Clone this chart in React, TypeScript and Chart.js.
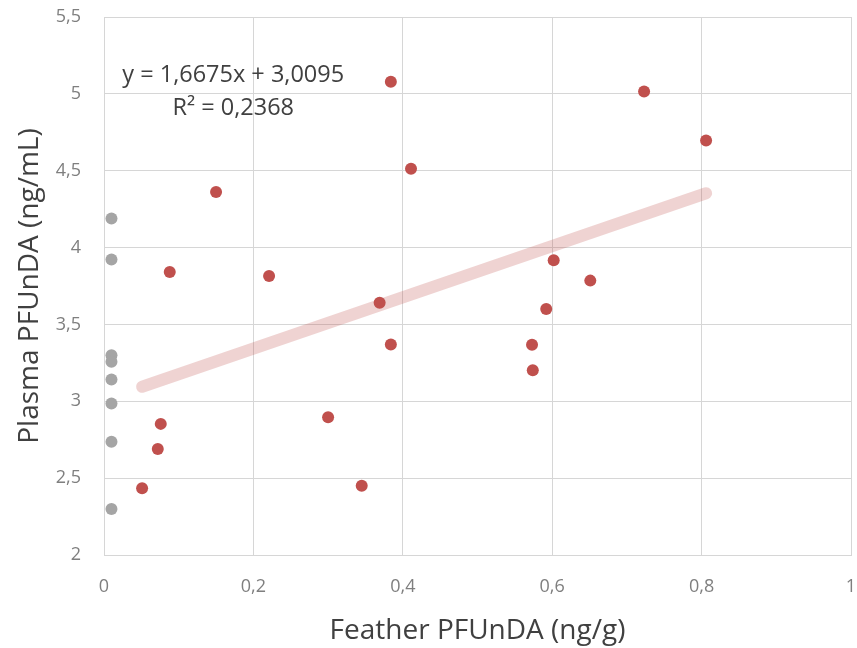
import React, { useEffect, useRef } from "react";
import { Chart, registerables } from "chart.js";

Chart.register(...registerables);

// Red series (measured feather PFUnDA vs plasma PFUnDA)
const featherRed = [0.051, 0.072, 0.076, 0.088, 0.15, 0.221, 0.3, 0.345, 0.369, 0.384, 0.384, 0.411, 0.573, 0.574, 0.592, 0.602, 0.651, 0.723, 0.806];
const plasmaRed = [2.435, 2.69, 2.853, 3.841, 4.361, 3.815, 2.896, 2.45, 3.641, 5.078, 3.37, 4.513, 3.368, 3.202, 3.6, 3.917, 3.785, 5.015, 4.696];

// Gray series (feather below detection)
const featherGray = [0.01, 0.01, 0.01, 0.01, 0.01, 0.01, 0.01, 0.01];
const plasmaGray = [4.189, 3.922, 3.3, 3.257, 3.141, 2.985, 2.737, 2.3];

// Linear trend
const trendSlope = 1.6675;
const trendIntercept = 3.0095;
const trendRange = [0.051, 0.806];

const equationLabel = "y = 1,6675x + 3,0095";
const r2Label = "R² = 0,2368";

const xTitle = "Feather PFUnDA (ng/g)";
const yTitle = "Plasma PFUnDA (ng/mL)";

const FONT = "Open Sans";

const fmt = (v: number) => String(Math.round(v * 10) / 10).replace(".", ",");

const annotationPlugin = {
  id: "eqAnnotation",
  afterDatasetsDraw(chart: any) {
    const { ctx, scales } = chart;
    const x = scales.x.getPixelForValue(0.173);
    const y1 = scales.y.getPixelForValue(5.118);
    const y2 = scales.y.getPixelForValue(4.905);
    ctx.save();
    ctx.fillStyle = "#404040";
    ctx.font = `23.5px "${FONT}"`;
    ctx.textAlign = "center";
    ctx.textBaseline = "middle";
    ctx.fillText(equationLabel, x, y1);
    ctx.fillText(r2Label, x, y2);
    ctx.restore();
  },
};

export default function App() {
  const ref = useRef<HTMLCanvasElement | null>(null);
  useEffect(() => {
    if (!ref.current) return;
    const red = featherRed.map((x, i) => ({ x, y: plasmaRed[i] }));
    const gray = featherGray.map((x, i) => ({ x, y: plasmaGray[i] }));
    const trend = trendRange.map((x) => ({ x, y: trendSlope * x + trendIntercept }));
    const chart = new Chart(ref.current, {
      type: "scatter",
      data: {
        datasets: [
          {
            label: "red",
            data: red,
            backgroundColor: "#c0504d",
            borderColor: "#c0504d",
            pointRadius: 6,
            pointBorderWidth: 0,
            order: 1,
          },
          {
            label: "gray",
            data: gray,
            backgroundColor: "#a5a5a5",
            borderColor: "#a5a5a5",
            pointRadius: 6,
            pointBorderWidth: 0,
            order: 2,
          },
          {
            type: "line",
            label: "trend",
            data: trend,
            borderColor: "rgba(192,80,77,0.25)",
            borderWidth: 12,
            borderCapStyle: "round",
            pointRadius: 0,
            fill: false,
            order: 3,
          } as any,
        ],
      },
      options: {
        animation: false,
        responsive: true,
        maintainAspectRatio: false,
        layout: { padding: { top: 17, right: 6, left: 0, bottom: 0 } },
        plugins: { legend: { display: false }, tooltip: { enabled: false } },
        scales: {
          x: {
            type: "linear",
            min: 0,
            max: 1,
            afterFit: (s: any) => {
              s.height = 93;
              s.paddingLeft = 0;
              s.paddingRight = 0;
            },
            ticks: {
              stepSize: 0.2,
              callback: (v: any) => fmt(Number(v)),
              color: "#7f7f7f",
              font: { family: FONT, size: 18 },
              padding: 21,
            },
            grid: { color: "#d6d6d6", lineWidth: 1, drawTicks: false },
            border: { color: "#d6d6d6" },
            title: {
              display: true,
              text: xTitle,
              color: "#404040",
              font: { family: FONT, size: 28 },
              padding: { top: 6, bottom: 0 },
            },
          },
          y: {
            type: "linear",
            min: 2,
            max: 5.5,
            afterFit: (s: any) => {
              s.width = 104;
              s.paddingTop = 0;
              s.paddingBottom = 0;
            },
            ticks: {
              stepSize: 0.5,
              callback: (v: any) => fmt(Number(v)),
              color: "#7f7f7f",
              font: { family: FONT, size: 18 },
              padding: 23,
            },
            grid: { color: "#d6d6d6", lineWidth: 1, drawTicks: false },
            border: { color: "#d6d6d6" },
            title: {
              display: true,
              text: yTitle,
              color: "#404040",
              font: { family: FONT, size: 28 },
              padding: { top: 13, bottom: 0 },
            },
          },
        },
      },
      plugins: [annotationPlugin],
    });
    return () => chart.destroy();
  }, []);
  return (
    <div style={{ position: "absolute", left: 0, top: 0, width: 857, height: 648, background: "#fff" }}>
      <canvas ref={ref} />
    </div>
  );
}
